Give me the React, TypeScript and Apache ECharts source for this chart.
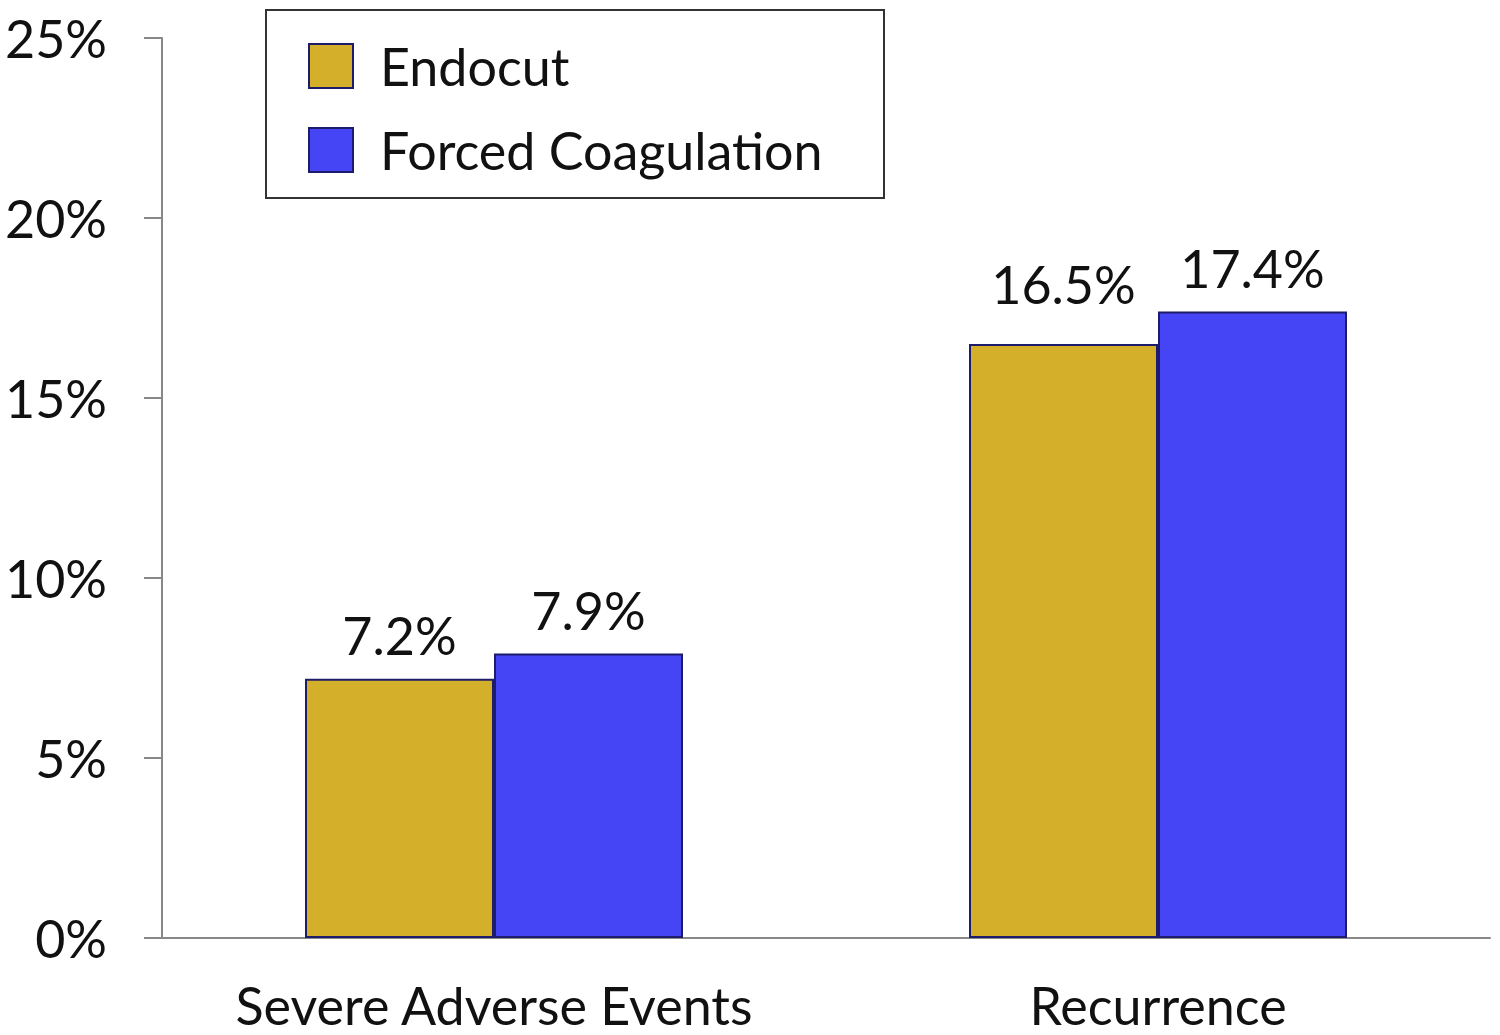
import React, { useEffect, useRef } from "react";
import * as echarts from "echarts";

const categories = ["Severe Adverse Events", "Recurrence"];
const endocutValues = [7.2, 16.5];
const forcedValues = [7.9, 17.4];
const seriesNames = ["Endocut", "Forced Coagulation"];
const yTicks = { min: 0, max: 25, interval: 5 };

const FONT = "Lato";

export default function App() {
  const ref = useRef<HTMLDivElement>(null);
  useEffect(() => {
    if (!ref.current) return;
    const chart = echarts.init(ref.current, null, { renderer: "svg" });
    const labelCfg = {
      show: true,
      position: "top",
      distance: 18,
      color: "#111",
      fontFamily: FONT,
      fontSize: 52,
      formatter: (p: any) => p.value.toFixed(1) + "%",
    };
    chart.setOption({
      animation: false,
      backgroundColor: "#fff",
      grid: { left: 162, right: 10, top: 38, bottom: 97, containLabel: false },
      legend: {
        orient: "vertical",
        left: 308,
        top: 40,
        itemWidth: 44,
        itemHeight: 44,
        itemGap: 32,
        icon: "rect",
        padding: 0,
        textStyle: { fontFamily: FONT, fontSize: 52, color: "#111", padding: [0, 0, 0, 22] },
        data: seriesNames,
      },
      graphic: [
        {
          type: "rect",
          shape: { x: 266, y: 10, width: 618, height: 188 },
          style: { fill: "none", stroke: "#333", lineWidth: 2 },
          z: 10,
        },
      ],
      xAxis: {
        type: "category",
        data: categories,
        axisLine: { lineStyle: { color: "#888", width: 2 } },
        axisTick: { show: false },
        axisLabel: { interval: 0, fontFamily: FONT, fontSize: 52, color: "#111", margin: 41 },
      },
      yAxis: {
        type: "value",
        min: yTicks.min,
        max: yTicks.max,
        interval: yTicks.interval,
        axisLine: { show: true, lineStyle: { color: "#888", width: 2 } },
        axisTick: { show: true, length: 18, lineStyle: { color: "#888", width: 2 } },
        splitLine: { show: false },
        axisLabel: { fontFamily: FONT, fontSize: 52, color: "#111", margin: 55, formatter: "{value}%" },
      },
      series: [
        {
          name: seriesNames[0],
          type: "bar",
          data: endocutValues.map((v, i) =>
            i === 1 ? { value: v, label: { distance: 34 } } : v
          ),
          barWidth: 189,
          barGap: "0%",
          itemStyle: { color: "#D4AF2A", borderColor: "#1c1c6a", borderWidth: 2 },
          label: labelCfg,
        },
        {
          name: seriesNames[1],
          type: "bar",
          data: forcedValues,
          barWidth: 189,
          barGap: "0%",
          itemStyle: { color: "#4545F5", borderColor: "#1c1c6a", borderWidth: 2 },
          label: labelCfg,
        },
      ],
    });
    return () => chart.dispose();
  }, []);
  return (
    <div
      ref={ref}
      style={{ position: "fixed", left: 0, top: 0, width: 1500, height: 1035, background: "#fff" }}
    />
  );
}
